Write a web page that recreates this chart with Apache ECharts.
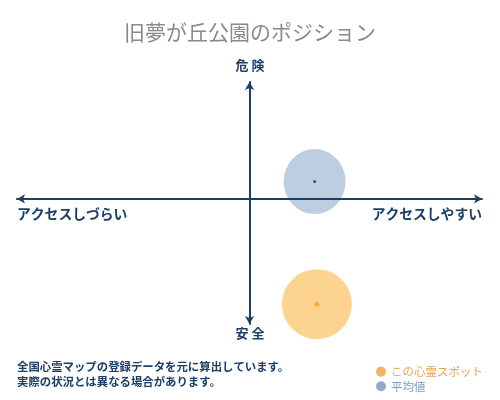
<!DOCTYPE html>
<html><head><meta charset="utf-8">
<script src="https://cdn.jsdelivr.net/npm/echarts@6/dist/echarts.min.js"></script>
<style>html,body{margin:0;padding:0;background:#fff}#c{width:500px;height:400px}</style>
</head><body><div id="c"></div>
<script>
const titleText = '旧夢が丘公園のポジション';
const axisTop = '危 険';
const axisBottom = '安 全';
const axisLeft = 'アクセスしづらい';
const axisRight = 'アクセスしやすい';
const notes = ['全国心霊マップの登録データを元に算出しています。', '実際の状況とは異なる場合があります。'];
const seriesNames = ['この心霊スポット', '平均値'];
const spotPoint = [0.29, -0.90];
const avgPoint = [0.28, 0.148];

const F = '"Noto Sans CJK JP", sans-serif';
const navy = '#1b3f68';
const chart = echarts.init(document.getElementById('c'));
chart.setOption({
  animation: false,
  title: { text: titleText, left: 'center', top: 17, textStyle: { fontFamily: F, fontSize: 21, fontWeight: 'normal', color: '#8a8a8a' } },
  grid: { left: 17, right: 18, top: 82, bottom: 76 },
  xAxis: { type: 'value', min: -1, max: 1, z: 10,
    axisLine: { onZero: true, symbol: ['arrow', 'arrow'], symbolSize: [7, 8], lineStyle: { color: navy, width: 2 } },
    axisTick: { show: false }, axisLabel: { show: false }, splitLine: { show: false } },
  yAxis: { type: 'value', min: -1.07, max: 1, z: 10,
    axisLine: { onZero: true, symbol: ['arrow', 'arrow'], symbolSize: [7, 8], lineStyle: { color: navy, width: 2 } },
    axisTick: { show: false }, axisLabel: { show: false }, splitLine: { show: false } },
  legend: { orient: 'vertical', left: 371, top: 361, itemGap: 3, itemWidth: 10, itemHeight: 10, icon: 'circle',
    textStyle: { fontFamily: F, fontSize: 11.5 },
    data: [
      { name: seriesNames[0], itemStyle: { color: '#f0a040' }, textStyle: { color: '#e9a24a' } },
      { name: seriesNames[1], itemStyle: { color: '#6f98c2' }, textStyle: { color: '#7c9cc0' } }
    ] },
  graphic: [
    { type: 'text', left: 'center', top: 59, style: { text: axisTop, font: 'bold 13px ' + F, fill: navy } },
    { type: 'text', left: 'center', top: 327, style: { text: axisBottom, font: 'bold 13px ' + F, fill: navy } },
    { type: 'text', left: 17, top: 207, style: { text: axisLeft, font: 'bold 13.8px ' + F, fill: navy } },
    { type: 'text', right: 18, top: 207, style: { text: axisRight, font: 'bold 13.8px ' + F, fill: navy } },
    { type: 'text', left: 17, top: 361, style: { text: notes[0], font: 'bold 11.4px ' + F, fill: navy } },
    { type: 'text', left: 17, top: 376, style: { text: notes[1], font: 'bold 11.4px ' + F, fill: navy } }
  ],
  series: [
    { name: seriesNames[1], type: 'scatter', data: [avgPoint], symbolSize: [62, 65], itemStyle: { color: '#aec2d9' }, z: 1, silent: true },
    { name: seriesNames[1], type: 'scatter', data: [avgPoint], symbolSize: 3, itemStyle: { color: '#1a2a40' }, z: 3, silent: true },
    { name: seriesNames[0], type: 'scatter', data: [spotPoint], symbolSize: 70, itemStyle: { color: '#fdc973' }, z: 1, silent: true },
    { name: seriesNames[0], type: 'scatter', data: [spotPoint], symbolSize: 5, itemStyle: { color: '#f3a328' }, z: 3, silent: true }
  ]
});
</script></body></html>
